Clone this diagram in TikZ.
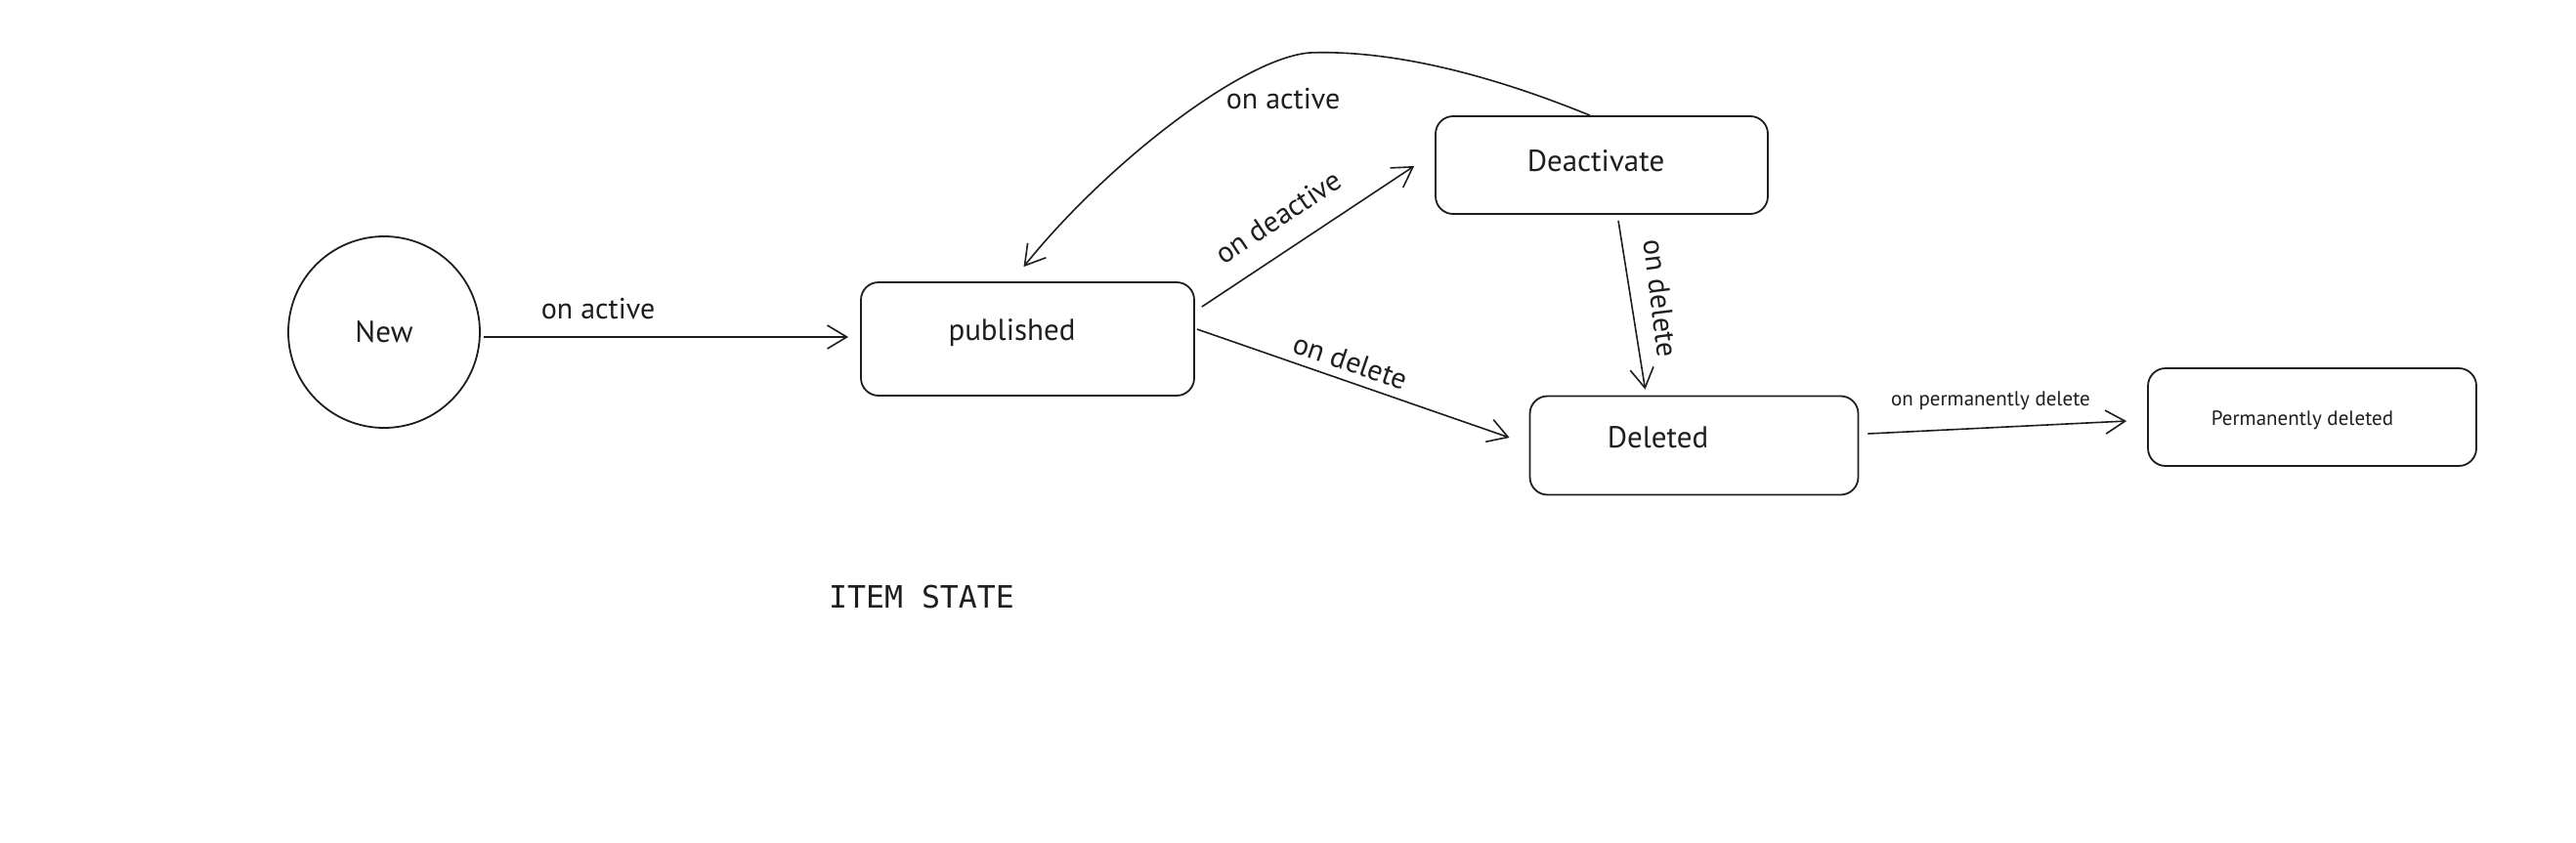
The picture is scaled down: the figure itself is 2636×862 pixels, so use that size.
\documentclass[tikz,border=0pt]{standalone}
\usepackage{fontspec}
\setmainfont{PT Sans}
\newfontfamily\monofnt{DejaVu Sans Mono}
\usetikzlibrary{arrows.meta,calc}
\definecolor{ink}{HTML}{1E1E1E}
\tikzset{
  statebox/.style={draw=ink, line width=1.8pt, rounded corners=18pt, inner sep=0pt},
  stateround/.style={draw=ink, line width=1.8pt, circle, inner sep=0pt, minimum size=196pt},
  boxtext/.style={text=ink, font=\fontsize{31}{36}\selectfont, inner sep=0pt},
  smalltext/.style={text=ink, font=\fontsize{21}{25}\selectfont, inner sep=0pt},
  edgetext/.style={text=ink, font=\fontsize{30}{36}\selectfont, inner sep=0pt},
  conn/.style={draw=ink, line width=1.6pt, -{Straight Barb[length=20pt, width=24pt, line width=1.6pt]}},
}
\begin{document}
\begin{tikzpicture}[x=1pt, y=-1pt]
\useasboundingbox (0,0) rectangle (2636,862);
\fill[white] (0,0) rectangle (2636,862);

% states
\node[stateround] (new) at (393,340) {};
\node[statebox, minimum width=341pt, minimum height=116pt] (pub) at (1051.5,347) {};
\node[statebox, minimum width=340pt, minimum height=100pt] (deact) at (1639,169) {};
\node[statebox, minimum width=336pt, minimum height=101pt] (del) at (1733.5,456) {};
\node[statebox, minimum width=336pt, minimum height=100pt] (perm) at (2366,427) {};

% state texts
\node[boxtext] (newt) at (new) {New};
\node[boxtext] (pubt) at ($(pub)+(-16,-6)$) {published};
\node[boxtext] (deactt) at ($(deact)+(-6,-4)$) {Deactivate};
\node[boxtext] (delt) at ($(del)+(-37,-8)$) {Deleted};
\node[smalltext] (permt) at ($(perm)+(-10,3)$) {Permanently deleted};

% connectors
\draw[conn] ($(new.east)+(3,5)$) -- ($(pub.west)+(-12,-2)$);
\draw[conn] ($(pub.east)+(7,-33)$) -- ($(deact.west)+(-21,1)$);
\draw[conn] ($(pub.east)+(2,-10)$) -- ($(del.west)+(-20,-8)$);
\draw[conn] ($(deact.south)+(17,6)$) -- ($(del.north)+(-50,-6)$);
\draw[conn] ($(del.east)+(9,-12)$) -- ($(perm.west)+(-21,4)$);
\draw[conn] (deact.north) ++(-12,0) coordinate (ca)
  (ca) .. controls (1570,95) and (1450,50) .. (1340,54)
  .. controls (1270,60) and (1130,170) .. ($(pub.north)+(-4,-15)$);

% edge labels
\node[edgetext] (l1) at (612,316) {on active};
\node[edgetext, rotate=33.6] (l2) at (1308,222) {on deactive};
\node[edgetext, rotate=-19] (l3) at (1382,370) {on delete};
\node[edgetext, rotate=-83] (l4) at (1699,305) {on delete};
\node[edgetext] (l5) at (1313,101) {on active};
\node[smalltext] (l6) at (2037,410) {on permanently delete};

% title
\node[text=ink, font=\monofnt\fontsize{31.5}{36}\selectfont, inner sep=0pt] (title) at (943,611) {ITEM STATE};
\end{tikzpicture}
\end{document}
